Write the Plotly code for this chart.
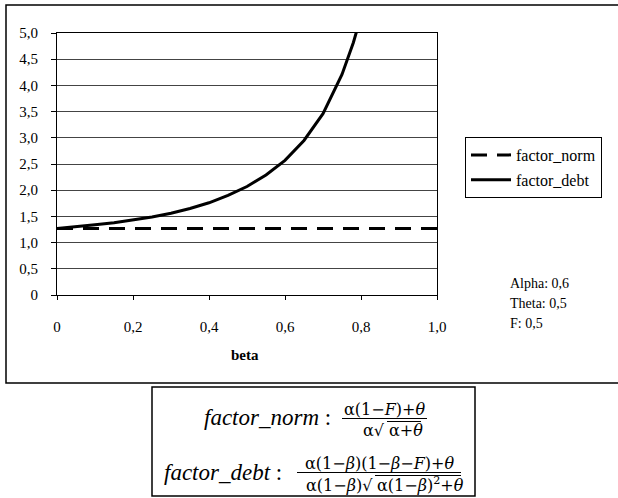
import plotly.graph_objects as go

# beta values and curves (Alpha 0,6 / Theta 0,5 / F 0,5)
beta = [0, 0.05, 0.1, 0.15, 0.2, 0.25, 0.3, 0.35, 0.4, 0.45, 0.5,
        0.55, 0.6, 0.65, 0.7, 0.75, 0.78, 0.79]
factor_debt = [1.27, 1.30, 1.34, 1.38, 1.43, 1.49, 1.56, 1.65, 1.76, 1.90, 2.07,
               2.29, 2.57, 2.95, 3.46, 4.21, 4.82, 5.07]
beta_norm = [0, 0.2, 0.4, 0.6, 0.8, 1.0]
factor_norm = [1.27, 1.27, 1.27, 1.27, 1.27, 1.27]

x_ticks = [0, 0.2, 0.4, 0.6, 0.8, 1.0]
x_labels = ["0", "0,2", "0,4", "0,6", "0,8", "1,0"]
y_ticks = [0, 0.5, 1, 1.5, 2, 2.5, 3, 3.5, 4, 4.5, 5]
y_labels = ["0", "0,5", "1,0", "1,5", "2,0", "2,5", "3,0", "3,5", "4,0", "4,5", "5,0"]

params = ["Alpha: 0,6", "Theta: 0,5", "F: 0,5"]

FONT = "Liberation Serif, Times New Roman, serif"
MATH = "DejaVu Serif, serif"

fig = go.Figure()
fig.add_trace(go.Scatter(x=beta_norm, y=factor_norm, mode="lines", name="factor_norm",
                         legendgroup="a",
                         line=dict(color="black", width=3, dash="16px,10px")))
fig.add_trace(go.Scatter(x=beta, y=factor_debt, mode="lines", name="factor_debt",
                         legendgroup="b",
                         line=dict(color="black", width=3)))

# helper: pixel -> paper coords (plot area 57..437 x 33..295)
def px(x):
    return (x - 57) / 380

def py(y):
    return (295 - y) / 262

def hline(x0, x1, y, w=1):
    return dict(type="line", xref="paper", yref="paper", x0=px(x0), x1=px(x1),
                y0=py(y), y1=py(y), line=dict(color="black", width=w))

shapes = [
    # outer chart frame
    dict(type="rect", xref="paper", yref="paper", x0=px(6), x1=px(630), y0=py(383), y1=py(5),
         line=dict(color="black", width=1.5)),
    # formula box
    dict(type="rect", xref="paper", yref="paper", x0=px(152), x1=px(475), y0=py(496), y1=py(387),
         line=dict(color="black", width=1.5)),
    # fraction bars and radical vincula
    hline(342, 427, 418.5),
    hline(387, 421, 421.5),
    hline(297, 461, 472.5),
    hline(375, 461, 475.5),
]

annotations = []
for i, t in enumerate(params):
    annotations.append(dict(text=t, x=px(508), y=py(283 + 20 * i), xref="paper", yref="paper",
                            xanchor="left", yanchor="middle", showarrow=False,
                            font=dict(family=FONT, size=14, color="black")))
annotations.append(dict(text="<b>beta</b>", x=px(245), y=py(355), xref="paper", yref="paper",
                        xanchor="center", yanchor="middle", showarrow=False,
                        font=dict(family=FONT, size=15, color="black")))

# formulas
m = dict(xref="paper", yref="paper", showarrow=False, yanchor="middle")
big = dict(family=FONT, size=23, color="black")
small = dict(family=MATH, size=16, color="black")
annotations += [
    dict(text="<i>factor_norm</i> :", x=px(333), y=py(417), xanchor="right", font=big, **m),
    dict(text="α(1−<i>F</i>)+<i>θ</i>", x=px(384.5), y=py(409), xanchor="center", font=small, **m),
    dict(text="α√", x=px(387), y=py(430), xanchor="right", font=small, **m),
    dict(text="α+<i>θ</i>", x=px(387), y=py(430), xanchor="left", font=small, **m),
    dict(text="<i>factor_debt</i> :", x=px(284), y=py(472), xanchor="right", font=big, **m),
    dict(text="α(1−<i>β</i>)(1−<i>β</i>−<i>F</i>)+<i>θ</i>", x=px(379), y=py(463),
         xanchor="center", font=small, **m),
    dict(text="α(1−<i>β</i>)√", x=px(375), y=py(485), xanchor="right", font=small, **m),
    dict(text="α(1−<i>β</i>)<sup>2</sup>+<i>θ</i>", x=px(375), y=py(484), xanchor="left",
         font=small, **m),
]

fig.update_layout(
    width=618, height=498,
    margin=dict(l=57, r=181, t=33, b=203),
    paper_bgcolor="white", plot_bgcolor="white",
    font=dict(family=FONT, size=15, color="black"),
    showlegend=True,
    legend=dict(x=px(465), y=py(137), xanchor="left", yanchor="top",
                bordercolor="black", borderwidth=1, bgcolor="white",
                font=dict(family=FONT, size=16, color="black"),
                traceorder="grouped", tracegroupgap=1, itemwidth=40),
    shapes=shapes,
    annotations=annotations,
)
fig.update_xaxes(range=[0, 1], tickvals=x_ticks, ticktext=x_labels,
                 showline=True, linecolor="black", linewidth=1, mirror=True,
                 ticks="outside", ticklen=4, tickcolor="black",
                 ticklabelstandoff=14, showgrid=False, zeroline=False,
                 tickfont=dict(family=FONT, size=15))
fig.update_yaxes(range=[0, 5], tickvals=y_ticks, ticktext=y_labels,
                 showline=True, linecolor="black", linewidth=1, mirror=True,
                 ticks="outside", ticklen=5, tickcolor="black",
                 ticklabelstandoff=10, showgrid=True, gridcolor="#444", gridwidth=1,
                 zeroline=False, tickfont=dict(family=FONT, size=15))

# the page's default 8px body margin would push the chart off the window
fig.write_html("out.html", config={"displayModeBar": False},
               post_script="document.body.style.margin='0px';")
